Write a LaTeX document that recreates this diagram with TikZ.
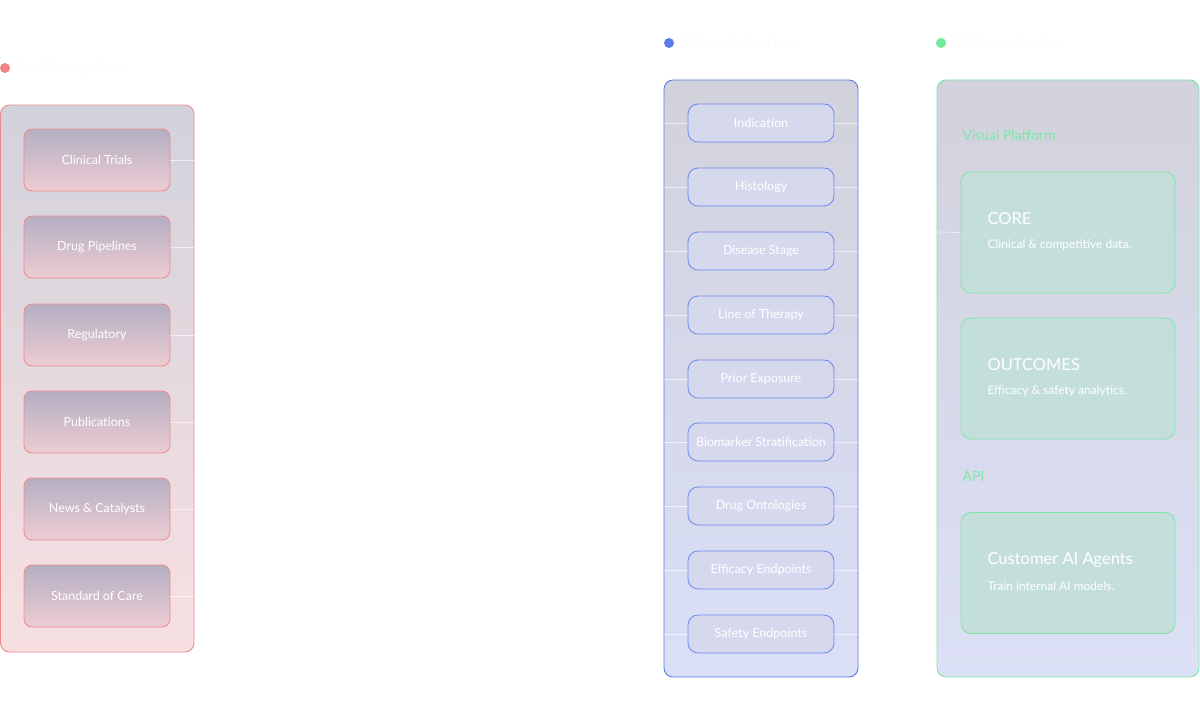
\documentclass[tikz,border=0pt]{standalone}
\usepackage{fontspec}
\setmainfont{Lato}
\usetikzlibrary{positioning}
\definecolor{redb}{HTML}{F08A8A}
\definecolor{blueb}{HTML}{5B7BEA}
\definecolor{greenb}{HTML}{7BE8A8}
\definecolor{panelTop}{HTML}{D2D2DC}
\definecolor{redBot}{HTML}{F8E0E2}
\definecolor{blueBot}{HTML}{DADFF8}
\definecolor{greenBot}{HTML}{DCE0F6}
\definecolor{pinkTop}{HTML}{B4AFC2}
\definecolor{pinkBot}{HTML}{EDCCD3}
\definecolor{blueBox}{HTML}{D6D9EE}
\definecolor{tealBox}{HTML}{C4DFDB}
\begin{document}
\begin{tikzpicture}[x=1pt,y=-1pt,
  panel/.style={draw=#1,line width=0.9pt,rounded corners=9pt},
  src/.style={draw=redb,line width=0.8pt,rounded corners=8pt,minimum width=146pt,minimum height=62pt,
     top color=pinkTop,bottom color=pinkBot,text=white,font=\fontsize{12.5}{14}\selectfont},
  feat/.style={draw=blueb!90,line width=0.8pt,rounded corners=10pt,minimum width=146pt,minimum height=38pt,
     fill=blueBox,text=white,font=\fontsize{12.5}{14}\selectfont},
  prod/.style={draw=greenb,line width=0.8pt,rounded corners=10pt,minimum width=214pt,minimum height=121pt,fill=tealBox},
  ttl/.style={text=white,font=\fontsize{16.5}{18}\selectfont,anchor=west},
  sub/.style={text=white,font=\fontsize{12}{13}\selectfont,anchor=west},
  hdr/.style={text=white!97!gray,font=\fontsize{12}{14}\selectfont,anchor=west},
  faint/.style={draw=white,line width=0.7pt,opacity=0.6}]
\useasboundingbox (0,0) rectangle (1200,709);
\fill[white] (0,0) rectangle (1200,709);
% headers
\fill[redb!95!red] (5,68) circle (5pt);
\node[hdr] (h1) at (14,68) {Raw Oncology Data};
\fill[blueb] (669,43) circle (5pt);
\node[hdr] (h2) at (678,43) {AI Normalization Layer};
\fill[greenb!90!green] (941,43) circle (5pt);
\node[hdr] (h3) at (950,43) {Intelligence Products};
% panels
\shade[top color=panelTop,bottom color=redBot,rounded corners=9pt] (0.5,105) rectangle (194,652);
\draw[panel=redb] (0.5,105) rectangle (194,652);
\shade[top color=panelTop,bottom color=blueBot,rounded corners=9pt] (664,80) rectangle (858,677);
\draw[panel=blueb] (664,80) rectangle (858,677);
\shade[top color=panelTop,bottom color=greenBot,rounded corners=9pt] (937,80) rectangle (1199,677);
\draw[panel=greenb] (937,80) rectangle (1199,677);
% sources
\foreach \n/\t/\y in {s1/Clinical Trials/160,s2/Drug Pipelines/247,s3/Regulatory/335,s4/Publications/422,s5/News \& Catalysts/509,s6/Standard of Care/596}{
  \node[src] (\n) at (97,\y) {\t};
  \coordinate (\n e) at (194,\y);
  \draw[faint] (\n.east) -- (\n e);
}
% features
\foreach \n/\t/\y in {f1/Indication/123,f2/Histology/187,f3/Disease Stage/251,f4/Line of Therapy/315,f5/Prior Exposure/379,f6/Biomarker Stratification/442,f7/Drug Ontologies/506,f8/Efficacy Endpoints/570,f9/Safety Endpoints/634}{
  \node[feat] (\n) at (761,\y) {\t};
  \coordinate (\n w) at (664,\y);
  \coordinate (\n e) at (858,\y);
  \draw[faint] (\n w) -- (\n.west);
  \draw[faint] (\n.east) -- (\n e);
}
% products
\node[text=greenb,font=\fontsize{14}{16}\selectfont,anchor=west] (vp) at (959,135) {Visual Platform};
\node[prod] (p1) at (1068,232.5) {};
\node[ttl] (p1t) at (984,219) {CORE};
\node[sub] (p1s) at (984,245) {Clinical \& competitive data.};
\node[prod] (p2) at (1068,378.5) {};
\node[ttl] (p2t) at (984,365) {OUTCOMES};
\node[sub] (p2s) at (984,391) {Efficacy \& safety analytics.};
\node[text=greenb,font=\fontsize{14}{16}\selectfont,anchor=west] (api) at (959,476) {API};
\node[prod] (p3) at (1068,573) {};
\node[ttl] (p3t) at (984,560) {Customer AI Agents};
\node[sub] (p3s) at (984,586) {Train internal AI models.};
\coordinate (p1w) at (937,232);
\draw[faint] (p1w) -- (p1.west);
\end{tikzpicture}
\end{document}
